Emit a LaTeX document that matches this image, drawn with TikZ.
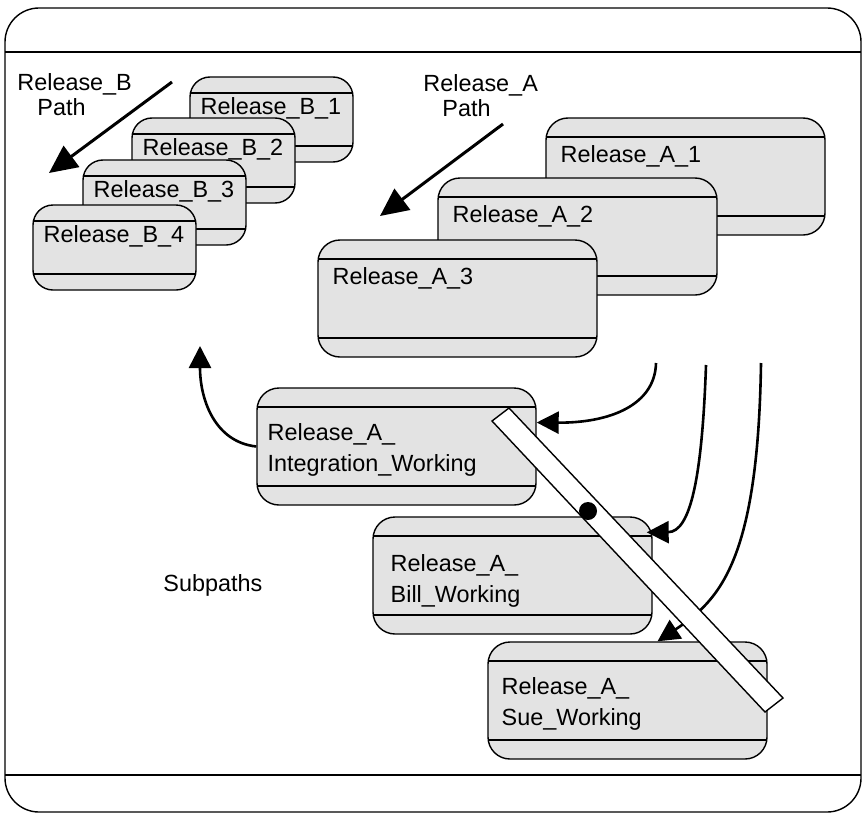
\documentclass[tikz,border=0pt]{standalone}
\usepackage{fontspec}
\setmainfont{Liberation Sans}
\usetikzlibrary{arrows.meta}
\tikzset{
  band/.style={path picture={\draw[line width=0.8pt]
    ([yshift=-#1]path picture bounding box.north west) -- ([yshift=-#1]path picture bounding box.north east)
    ([yshift=#1]path picture bounding box.south west) -- ([yshift=#1]path picture bounding box.south east);}},
  relbox/.style={draw, line width=0.7pt, fill=black!11, rounded corners=11pt, inner sep=0pt},
  smallbox/.style={relbox, minimum width=81.5pt, minimum height=42.5pt, rounded corners=10pt, band=8pt},
  bigbox/.style={relbox, minimum width=139.5pt, minimum height=58.5pt, band=9.5pt},
  txt/.style={anchor=north west, inner sep=0pt, align=left, font=\fontsize{11.7}{15.5}\selectfont},
  patharrow/.style={line width=1.5pt, -{Triangle[length=14pt,width=13pt]}},
  subarrow/.style={line width=1.3pt, -{Triangle[length=11pt,width=11pt]}}
}
\begin{document}
\begin{tikzpicture}[x=0.5pt,y=-0.5pt]
\useasboundingbox (0,0) rectangle (865,813);
\draw[line width=0.7pt, rounded corners=17pt] (5,8) rectangle (861,812);
\draw[line width=0.8pt] (5,52) -- (861,52);
\draw[line width=0.8pt] (5,775) -- (861,775);
\node[txt] (lb) at (17,73) {Release\_B};
\node[txt] (lbp) at (37,98) {Path};
\node[txt] (la) at (423,74) {Release\_A};
\node[txt] (lap) at (442,99) {Path};
\node[txt] (sub) at (163,574) {Subpaths};
\node[smallbox] (b1) at (271.5,119.5) {};
\node[txt] (tb1) at ([shift={(11,21)}]b1.north west) {Release\_B\_1};
\node[smallbox] (b2) at (213.5,160.5) {};
\node[txt] (tb2) at ([shift={(11,21)}]b2.north west) {Release\_B\_2};
\node[smallbox] (b3) at (164.5,202.5) {};
\node[txt] (tb3) at ([shift={(11,21)}]b3.north west) {Release\_B\_3};
\node[smallbox] (b4) at (114.5,247.5) {};
\node[txt] (tb4) at ([shift={(11,21)}]b4.north west) {Release\_B\_4};
\node[bigbox] (a1) at (685.5,176.5) {};
\node[txt] (ta1) at ([shift={(15,28)}]a1.north west) {Release\_A\_1};
\node[bigbox] (a2) at (577.5,236.5) {};
\node[txt] (ta2) at ([shift={(15,28)}]a2.north west) {Release\_A\_2};
\node[bigbox] (a3) at (457.5,298.5) {};
\node[txt] (ta3) at ([shift={(15,28)}]a3.north west) {Release\_A\_3};
\node[bigbox] (integ) at (396.5,446.5) {};
\node[txt] (tinteg) at ([shift={(11,36)}]integ.north west) {Release\_A\_\\Integration\_Working};
\node[bigbox] (bill) at (512.5,575.5) {};
\node[txt] (tbill) at ([shift={(18,38)}]bill.north west) {Release\_A\_\\Bill\_Working};
\node[bigbox] (sue) at (627.5,700.5) {};
\node[txt] (tsue) at ([shift={(14,36)}]sue.north west) {Release\_A\_\\Sue\_Working};
\coordinate (btail) at (172,82); \coordinate (bhead) at (49,173);
\coordinate (atail) at (503,124); \coordinate (ahead) at (380,216);
\coordinate (up) at (200,346);
\coordinate (s1) at (656,363); \coordinate (s2) at (706,365); \coordinate (s3) at (761,363);
\draw[patharrow] (btail) -- (bhead);
\draw[patharrow] (atail) -- (ahead);
\draw[subarrow] (integ.west) .. controls (215,442) and (200,400) .. (up);
\draw[subarrow] (s1) .. controls (655,405) and (610,423) .. ([yshift=12pt]integ.east);
\draw[subarrow] (s2) .. controls (702,480) and (690,532) .. ([shift={(-6,16)}]bill.north east);
\draw[subarrow] (s3) .. controls (758,560) and (720,600) .. ([xshift=15pt]sue.north);
\draw[line width=0.7pt, fill=white] (492,421) -- (509,408) -- (783,698) -- (765,712) -- cycle;
\fill (588,511) circle[radius=4.5pt];
\end{tikzpicture}
\end{document}
